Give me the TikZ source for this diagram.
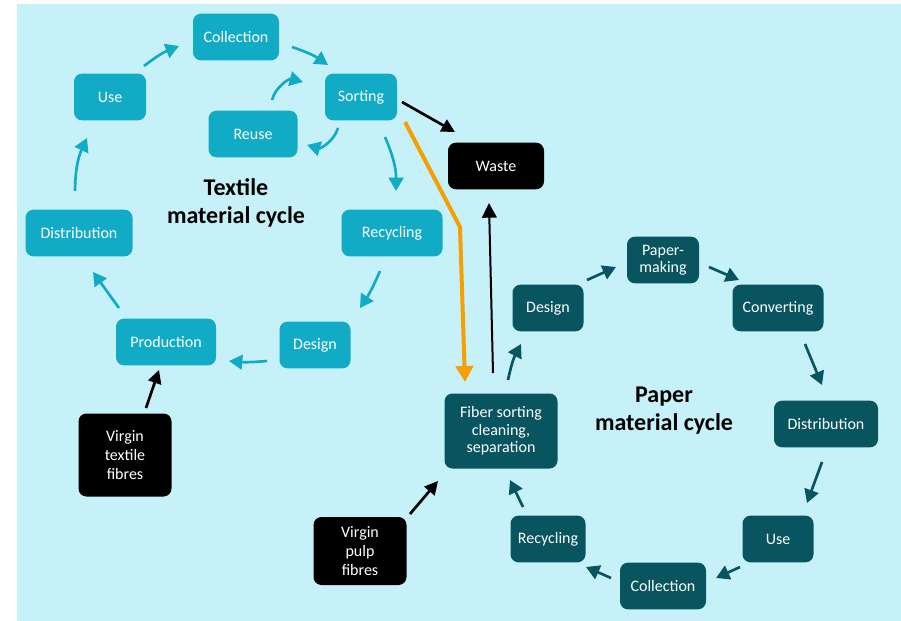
\documentclass[tikz,border=0pt]{standalone}
\usepackage{fontspec}
\setmainfont{Carlito}
\usetikzlibrary{arrows.meta,calc}
\definecolor{bgcyan}{RGB}{199,241,249}
\definecolor{tealbox}{RGB}{18,171,197}
\definecolor{darkbox}{RGB}{8,84,95}
\definecolor{wasteorange}{RGB}{245,160,0}

\tikzset{
  stagebox/.style={rounded corners=6pt, text=white, align=center, inner sep=0pt,
    minimum height=35pt, font=\fontsize{12}{13}\selectfont},
  tbox/.style={stagebox, fill=tealbox},
  pbox/.style={stagebox, fill=darkbox},
  blackbox/.style={stagebox, fill=black, font=\fontsize{12}{14.3}\selectfont},
  tarrow/.style={-{Triangle[length=10pt,width=11pt]}, tealbox, line width=2pt},
  parrow/.style={-{Triangle[length=10pt,width=11pt]}, darkbox, line width=2pt},
  barrow/.style={-{Triangle[length=10pt,width=10pt]}, black, line width=2pt},
  cycletitle/.style={font=\fontsize{18}{21}\selectfont\bfseries, align=center}
}

\begin{document}
\begin{tikzpicture}[x=0.75pt,y=-0.75pt]
  \useasboundingbox (0,0) rectangle (901,621);
  \fill[bgcyan] (17,4) rectangle (901,621);

  % textile cycle
  \node[tbox, minimum width=64.5pt] (tcoll) at (236,37) {Collection};
  \node[tbox, minimum width=54pt] (tuse) at (110,97) {Use};
  \node[tbox, minimum width=54pt] (tsort) at (361,97) {Sorting};
  \node[tbox, minimum width=66.75pt] (treuse) at (253,134) {Reuse};
  \node[tbox, minimum width=80.25pt] (tdist) at (79,233) {Distribution};
  \node[tbox, minimum width=75.75pt] (trecy) at (392,233) {Recycling};
  \node[tbox, minimum width=75pt] (tprod) at (166,342) {Production};
  \node[tbox, minimum width=53.25pt] (tdes) at (315,345) {Design};
  \node[blackbox, minimum width=69.75pt, minimum height=62.25pt] (tvirgin) at (125,455) {Virgin\\textile\\fibres};
  \node[cycletitle] (ttitle) at (236,203) {Textile\\material cycle};

  % waste
  \node[blackbox, minimum width=72pt] (waste) at (496,166) {Waste};

  % paper cycle
  \node[pbox, minimum width=84.75pt, minimum height=56.25pt] (pfib) at (501,431) {Fiber sorting\\cleaning,\\separation};
  \node[pbox, minimum width=53.25pt] (pdes) at (548,308) {Design};
  \node[pbox, minimum width=54pt] (pmak) at (663,260) {Paper-\\making};
  \node[pbox, minimum width=68.25pt] (pconv) at (778,308) {Converting};
  \node[pbox, minimum width=78pt] (pdist) at (826,424) {Distribution};
  \node[pbox, minimum width=53.25pt] (puse) at (778,539) {Use};
  \node[pbox, minimum width=64.5pt] (pcoll) at (663,586) {Collection};
  \node[pbox, minimum width=56.25pt] (precy) at (548,539) {Recycling};
  \node[blackbox, minimum width=69.75pt, minimum height=51pt] (pvirgin) at (360,551) {Virgin\\pulp\\fibres};
  \node[cycletitle] (ptitle) at (664,411) {Paper\\material cycle};

  % textile arrows
  \draw[tarrow] ($(tuse)+(34,-31)$) to[bend left=8] ($(tcoll)+(-57,9)$);
  \draw[tarrow] ($(tcoll)+(56,10)$) to[bend left=8] ($(tsort)+(-33,-32)$);
  \draw[tarrow] ($(tsort)+(-23,31)$) to[bend left=45] ($(treuse)+(54,11)$);
  \draw[tarrow] ($(treuse)+(19,-34)$) to[bend left=45] ($(tsort)+(-58,-15)$);
  \draw[tarrow] ($(tsort)+(24,40)$) to[bend left=12] ($(trecy)+(4,-42)$);
  \draw[tarrow] ($(trecy)+(-12,38)$) to[bend left=5] ($(tdes)+(45,-37)$);
  \draw[tarrow] ($(tdes)+(-48,16)$) to[bend left=5] ($(tprod)+(63,19)$);
  \draw[tarrow] ($(tprod)+(-47,-34)$) -- ($(tdist)+(14,39)$);
  \draw[tarrow] ($(tdist)+(-4,-42)$) to[bend left=12] ($(tuse)+(-23,41)$);
  \draw[barrow] ($(tvirgin)+(21,-47)$) -- ($(tprod)+(-7,28)$);

  % to and from waste
  \draw[barrow] ($(tsort)+(41,5)$) -- ($(waste)+(-41,-34)$);
  \draw[-{Triangle[length=12pt,width=13pt]}, wasteorange, line width=3pt, line join=round]
    ($(tsort)+(44,25)$) -- ($(tsort)+(99,130)$) -- ($(pfib)+(-36,-49)$);
  \draw[-{Triangle[length=11pt,width=11pt]}, black, line width=1.5pt]
    ($(pfib)+(-8,-58)$) -- ($(waste)+(-7,37)$);

  % paper arrows
  \draw[parrow] ($(pfib)+(7,-51)$) to[bend left=8] ($(pdes)+(-27,36)$);
  \draw[parrow] ($(pdes)+(39,-28)$) -- ($(pmak)+(-47,7)$);
  \draw[parrow] ($(pmak)+(46,7)$) -- ($(pconv)+(-39,-28)$);
  \draw[parrow] ($(pconv)+(27,36)$) -- ($(pdist)+(-4,-39)$);
  \draw[parrow] ($(pdist)+(-4,38)$) -- ($(puse)+(29,-36)$);
  \draw[parrow] ($(puse)+(-38,28)$) -- ($(pcoll)+(53,-8)$);
  \draw[parrow] ($(pcoll)+(-52,-8)$) -- ($(precy)+(38,28)$);
  \draw[parrow] ($(precy)+(-25,-32)$) -- ($(pfib)+(9,49)$);
  \draw[barrow] ($(pvirgin)+(50,-37)$) -- ($(pfib)+(-63,50)$);
\end{tikzpicture}
\end{document}
